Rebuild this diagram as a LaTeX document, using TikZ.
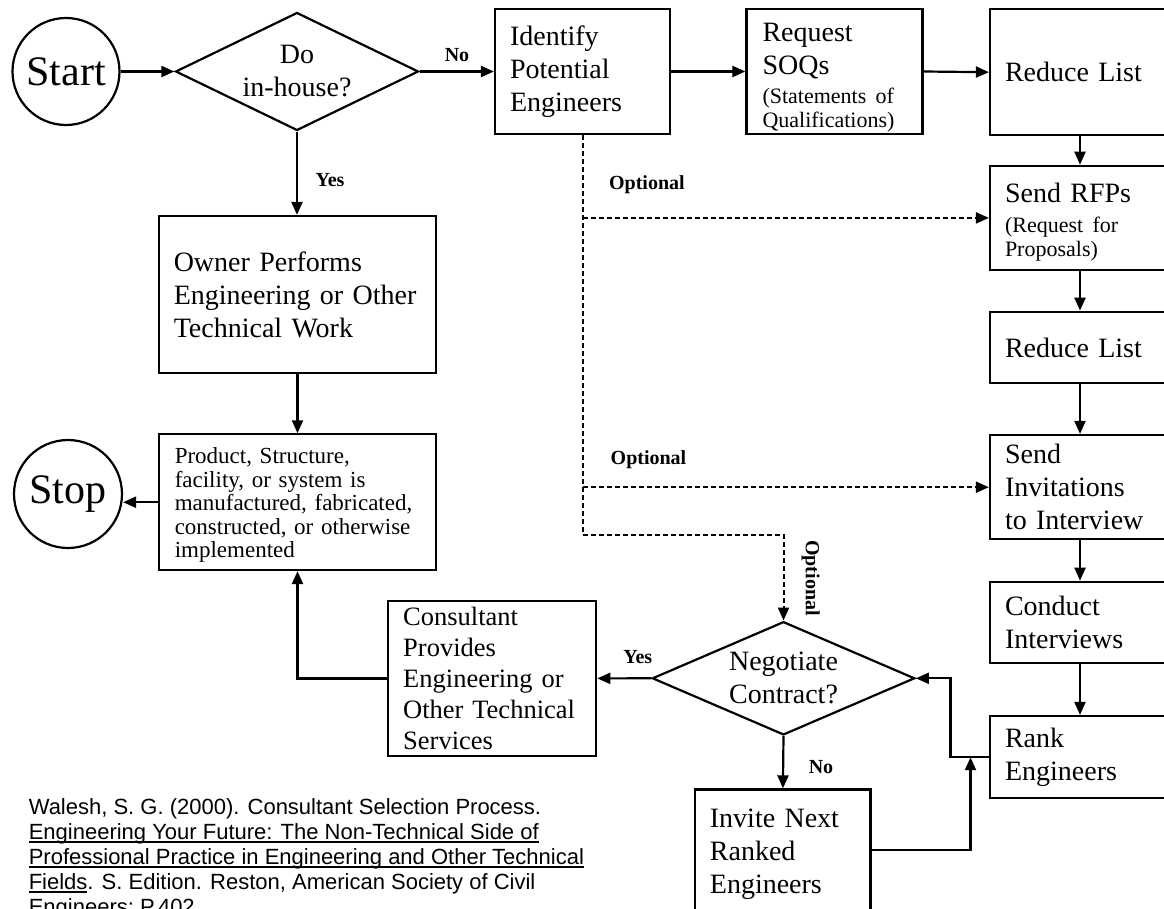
\documentclass[tikz,border=0pt]{standalone}
\usepackage{fontspec}
\setmainfont{Liberation Serif}
\newfontfamily\citefamily{Liberation Sans}
\usetikzlibrary{shapes.geometric,arrows.meta}

% type sizes (1pt = one unit of the drawing)
\newcommand\boxfs{\fontsize{28}{33}\selectfont}
\newcommand\subfs{\fontsize{22}{24}\selectfont}
\newcommand\prodfs{\fontsize{23}{23.5}\selectfont}
\newcommand\consfs{\fontsize{26.5}{30.8}\selectfont}
\newcommand\termfs{\fontsize{42}{48}\selectfont}
\newcommand\lblfs{\bfseries\fontsize{20}{24}\selectfont}
\newcommand\citefs{\citefamily\fontsize{22}{25}\selectfont}

% thick underline for the book title in the reference note
\newsavebox\ulbox
\newcommand\citeul[1]{\sbox\ulbox{#1}\rlap{\rule[-3.5pt]{\wd\ulbox}{1.6pt}}\usebox\ulbox}

\begin{document}
\begin{tikzpicture}[
  x=1pt, y=-1pt,
  line width=2.2pt,
  >={Triangle[length=13pt,width=11pt]},
  stepbox/.style={draw, rectangle, align=left, inner xsep=15pt, inner ysep=0pt, font=\boxfs},
  termnode/.style={draw, circle, inner sep=0pt, font=\termfs},
  decide/.style={draw, diamond, inner sep=0pt, align=center, font=\boxfs},
  flowline/.style={->},
  optline/.style={->, line width=2pt, dash pattern=on 5pt off 3pt},
  edgelabel/.style={font=\lblfs, inner sep=0pt},
]
\useasboundingbox (0,0) rectangle (1164,909);
\clip (0,0) rectangle (1164,909);
\fill[white] (0,0) rectangle (1164,909);

% ---- top row
\node[termnode, minimum size=107pt] (start) at (66,71.5) {Start};
\node[decide, minimum width=243pt, minimum height=118pt, shape aspect=2.1] (inhouse) at (297,71.5) {Do\\in-house?};
\node[stepbox, text width=145pt, minimum height=125pt] (ident) at (582.5,71.5) {Identify\\Potential\\Engineers};
\node[stepbox, text width=144pt, inner xsep=16pt, minimum height=125pt] (soq) at (834.5,71.5)
  {\rule{0pt}{31pt}Request\\SOQs\par\vskip5pt\subfs (Statements of\\Qualifications)\par};

% ---- right-hand column
\node[stepbox, text width=150pt, minimum height=125.7pt] (r1) at (1080,72.2) {Reduce List};
\node[stepbox, text width=150pt, minimum height=104.3pt] (r2) at (1080,217.9)
  {\rule{0pt}{27pt}Send RFPs\par\vskip6pt\subfs (Request for\\Proposals)\par};
\node[stepbox, text width=150pt, minimum height=71.6pt] (r3) at (1080,347.5) {Reduce List};
\node[stepbox, text width=150pt, minimum height=104.3pt] (r4) at (1080,487.2) {Send\\Invitations\\to Interview};
\node[stepbox, text width=150pt, minimum height=81.6pt] (r5) at (1080,622.5) {Conduct\\Interviews};
\node[stepbox, text width=150pt, minimum height=82.3pt] (r6) at (1080,757.2) {Rank\\Engineers};

% ---- left-hand column
\node[stepbox, text width=247.5pt, minimum height=157pt] (owner) at (297.5,294.5)
  {Owner Performs\\Engineering or Other\\Technical Work};
\node[stepbox, text width=245.5pt, inner xsep=16pt, minimum height=135.7pt, font=\prodfs] (prod) at (297.5,502.2)
  {\rule{0pt}{22pt}Product, Structure,\\facility, or system is\\manufactured, fabricated,\\constructed, or otherwise\\implemented};
\node[termnode, minimum size=108pt] (stop) at (68,494) {Stop};

% ---- negotiation loop
\node[stepbox, text width=178pt, minimum height=155.3pt, font=\consfs] (cons) at (492.2,678.4)
  {Consultant\\Provides\\Engineering or\\Other Technical\\Services};
\node[decide, minimum width=262.5pt, minimum height=113.3pt, shape aspect=2.3] (nego) at (783.5,678.3) {Negotiate\\Contract?};
\node[stepbox, text width=146pt, inner xsep=14.6pt, inner ysep=20pt, text depth=120pt, anchor=north] (invite) at (782.9,788.3)
  {Invite Next\\Ranked\\Engineers};

% ---- solid connectors
\draw[flowline] (start.east) -- (inhouse.west);
\draw[flowline] (inhouse.east) -- (ident.west);
\draw[flowline] (ident.east) -- (soq.west);
\draw[flowline] (soq.east) -- (r1.west);
\draw[flowline] (r1.south) -- (r2.north);
\draw[flowline] (r2.south) -- (r3.north);
\draw[flowline] (r3.south) -- (r4.north);
\draw[flowline] (r4.south) -- (r5.north);
\draw[flowline] (r5.south) -- (r6.north);
\draw[flowline] (inhouse.south) -- (inhouse.south |- owner.north);
\draw[flowline] (owner.south) -- (prod.north);
\draw[flowline] (prod.west) -- (prod.west -| stop.east);
\draw[flowline] (nego.west) -- (cons.east);
\draw[flowline] (cons.west) -| (prod.south);
\draw[flowline] (nego.south) -- (invite.north);
\draw[flowline] (r6.west) -- ++(-38.5,0) |- (nego.east);
\coordinate (merge) at (970.5,757.2);
\draw[flowline] ([yshift=-62pt]invite.north east) -| (merge);

% ---- optional (dashed) routes
\coordinate (optturn) at (783.5,535);
\draw[optline] (ident.south) |- (optturn) -- (nego.north);
\draw[optline] (ident.south |- r2.west) -- (r2.west);
\draw[optline] (ident.south |- r4.west) -- (r4.west);

% ---- connector labels
\node[edgelabel] (lno1) at (457,55) {No};
\node[edgelabel] (lyes1) at (330,180) {Yes};
\node[edgelabel, anchor=west] (lopt1) at (608,185) {Optional};
\node[edgelabel, anchor=west] (lopt2) at (609.6,460) {Optional};
\node[edgelabel, rotate=-90] (lopt3) at (810.6,578) {Optional};
\node[edgelabel] (lyes2) at (637.8,656.7) {Yes};
\node[edgelabel] (lno2) at (821,766.7) {No};

% ---- reference note
\node[anchor=north west, align=left, inner sep=0pt, font=\citefs] (cite) at (27.7,797)
  {Walesh, S. G. (2000). Consultant Selection Process.\\
   \citeul{Engineering Your Future: The Non-Technical Side of}\\
   \citeul{Professional Practice in Engineering and Other Technical}\\
   \citeul{Fields}. S. Edition. Reston, American Society of Civil\\
   Engineers; P.402};
\end{tikzpicture}
\end{document}
